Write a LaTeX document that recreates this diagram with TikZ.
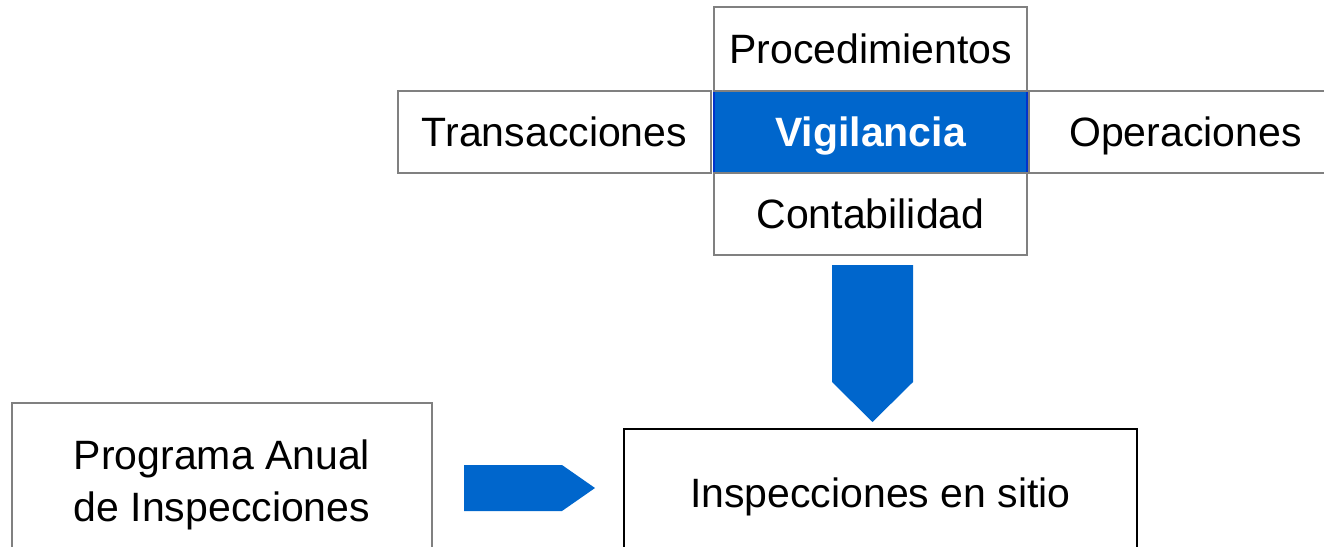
\documentclass[tikz,border=0pt]{standalone}
\usepackage{fontspec}
\setmainfont{Liberation Sans}
\usetikzlibrary{positioning, calc}
\definecolor{vigblue}{HTML}{0066CC}
\definecolor{vigedge}{HTML}{0033CC}
\definecolor{boxgray}{HTML}{808080}

\begin{document}
\begin{tikzpicture}[x=1pt, y=-1pt,
    cell/.style={rectangle, draw=boxgray, line width=1.5pt, minimum width=313pt,
      minimum height=82pt, inner sep=0pt, outer sep=0pt, text depth=0pt,
      font=\fontsize{41}{52}\selectfont},
    bigcell/.style={cell, align=center},
    blockarrow/.style={fill=vigblue, draw=none}]

  \useasboundingbox (0,0) rectangle (1324,546);
  \clip (0,0) rectangle (1324,546);

  % cross of areas
  \node[cell, fill=vigblue, draw=vigedge, text=white,
    font=\fontsize{41}{52}\selectfont\bfseries] (vig) at (870.5,132) {Vigilancia};
  \node[cell, minimum height=84pt, above=0pt of vig] (proc) {Procedimientos};
  \node[cell, below=0pt of vig] (conta) {Contabilidad};
  \node[cell, left=3pt of vig] (trans) {Transacciones};
  \node[cell, right=2pt of vig] (oper) {Operaciones};

  % lower row
  \node[bigcell, minimum width=420pt, minimum height=156pt] (prog) at (222,481)
    {Programa Anual\\de Inspecciones};
  \node[bigcell, draw=black, minimum width=513pt, minimum height=128pt] (insp) at (880.5,493)
    {Inspecciones en sitio};

  % block arrows
  \coordinate (dtop) at ($(conta.south)+(2,10)$);
  \coordinate (dtip) at ($(dtop |- insp.north)+(0,-7)$);
  \fill[blockarrow] let \p1 = (dtop), \p2 = (dtip) in
    (\x1-40.5pt,\y1) -- (\x1+40.5pt,\y1) -- (\x1+40.5pt,\y2+40pt) -- (\p2)
    -- (\x1-40.5pt,\y2+40pt) -- cycle;

  \coordinate (rtail) at ($(prog.east |- insp.center)+(32,-5)$);
  \coordinate (rtip) at ($(insp.west |- rtail)+(-29,0)$);
  \fill[blockarrow] let \p1 = (rtail), \p2 = (rtip) in
    (\x1,\y1+23pt) -- (\x2-33pt,\y1+23pt) -- (\p2) -- (\x2-33pt,\y1-23pt)
    -- (\x1,\y1-23pt) -- cycle;
\end{tikzpicture}
\end{document}
